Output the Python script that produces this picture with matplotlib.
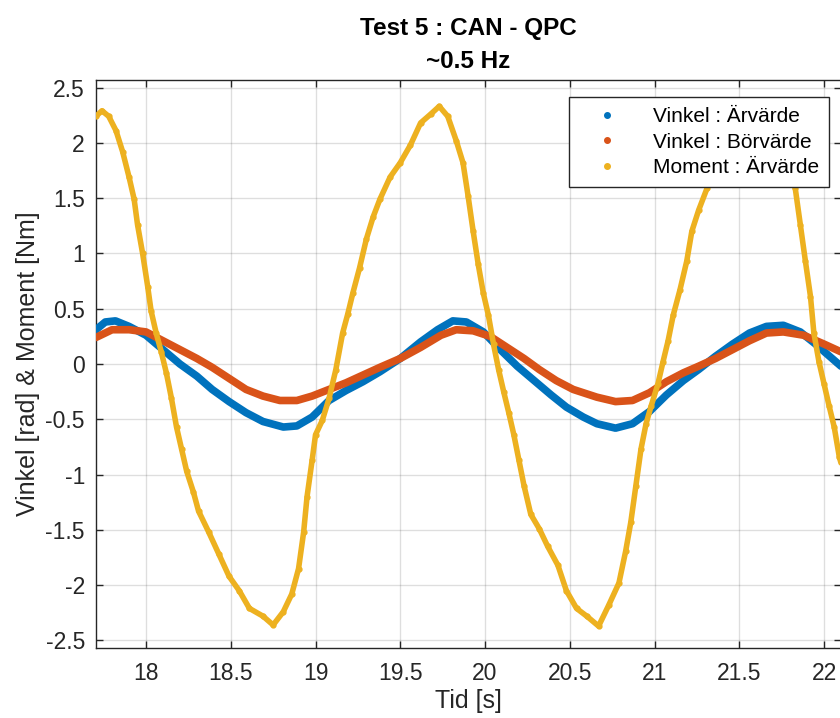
import numpy as np
import matplotlib.pyplot as plt
from matplotlib.lines import Line2D

# MATLAB-ish look
plt.rcParams['font.family'] = ['Liberation Sans', 'DejaVu Sans']

blue = '#0072BD'
red = '#D95319'
yellow = '#EDB120'

# Vinkel : Ärvärde
t_vinkel_ar = [17.705, 17.76, 17.82, 17.90, 18.00, 18.10, 18.20, 18.30, 18.39, 18.49, 18.59, 18.69,
               18.81, 18.89, 18.98, 19.08, 19.18, 19.28, 19.38, 19.50, 19.62, 19.72, 19.81, 19.89,
               19.99, 20.09, 20.19, 20.29, 20.39, 20.48, 20.58, 20.66, 20.77, 20.87, 20.97, 21.07,
               21.17, 21.26, 21.36, 21.46, 21.56, 21.66, 21.76, 21.86, 21.95, 22.07, 22.10]
vinkel_ar = [0.31, 0.38, 0.39, 0.34, 0.26, 0.13, 0.00, -0.11, -0.23, -0.34, -0.44, -0.52,
             -0.57, -0.56, -0.48, -0.33, -0.24, -0.16, -0.07, 0.05, 0.20, 0.31, 0.39, 0.38,
             0.29, 0.13, -0.02, -0.15, -0.28, -0.39, -0.48, -0.54, -0.58, -0.54, -0.43, -0.28,
             -0.15, -0.05, 0.07, 0.18, 0.28, 0.34, 0.35, 0.29, 0.18, 0.02, -0.02]

# Vinkel : Börvärde
t_vinkel_bor = [17.705, 17.80, 17.90, 18.00, 18.10, 18.20, 18.30, 18.39, 18.49, 18.59, 18.69, 18.79,
                18.89, 18.98, 19.08, 19.18, 19.28, 19.38, 19.50, 19.62, 19.74, 19.83, 19.93, 20.03,
                20.13, 20.23, 20.32, 20.42, 20.52, 20.66, 20.77, 20.87, 20.97, 21.07, 21.17, 21.26,
                21.36, 21.46, 21.56, 21.66, 21.76, 21.88, 22.00, 22.10]
vinkel_bor = [0.24, 0.31, 0.31, 0.29, 0.21, 0.13, 0.05, -0.03, -0.13, -0.23, -0.29, -0.33,
              -0.33, -0.29, -0.23, -0.17, -0.10, -0.03, 0.05, 0.15, 0.26, 0.31, 0.30, 0.25,
              0.15, 0.05, -0.05, -0.15, -0.23, -0.30, -0.34, -0.33, -0.26, -0.16, -0.08, -0.02,
              0.05, 0.13, 0.21, 0.28, 0.29, 0.26, 0.18, 0.11]

# Moment : Ärvärde
t_moment = [17.705, 17.74, 17.78, 17.823, 17.862, 17.90, 17.93, 17.95, 17.98, 18.01, 18.03, 18.06,
            18.09, 18.12, 18.15, 18.18, 18.21, 18.24, 18.28, 18.31, 18.37, 18.43, 18.49, 18.55,
            18.61, 18.69, 18.75, 18.81, 18.86, 18.90, 18.93, 18.95, 18.98, 19.00, 19.04, 19.08,
            19.12, 19.16, 19.19, 19.22, 19.26, 19.30, 19.34, 19.38, 19.44, 19.50, 19.56, 19.62,
            19.68, 19.73, 19.78, 19.83, 19.87, 19.90, 19.93, 19.96, 19.99, 20.02, 20.05, 20.08,
            20.11, 20.14, 20.17, 20.20, 20.23, 20.27, 20.32, 20.37, 20.43, 20.48, 20.54, 20.60,
            20.67, 20.73, 20.79, 20.83, 20.86, 20.89, 20.92, 20.95, 20.98, 21.02, 21.05, 21.08,
            21.11, 21.15, 21.19, 21.22, 21.26, 21.31, 21.36, 21.45, 21.55, 21.62, 21.70, 21.78,
            21.83, 21.86, 21.89, 21.92, 21.94, 21.97, 22.00, 22.03, 22.06, 22.09, 22.11]
moment = [2.24, 2.29, 2.24, 2.11, 1.92, 1.69, 1.49, 1.26, 1.00, 0.70, 0.48, 0.28,
          0.11, -0.08, -0.31, -0.57, -0.77, -0.97, -1.16, -1.33, -1.52, -1.72, -1.92, -2.05,
          -2.21, -2.28, -2.36, -2.24, -2.08, -1.85, -1.52, -1.20, -0.87, -0.64, -0.51, -0.31,
          -0.05, 0.28, 0.45, 0.64, 0.87, 1.13, 1.33, 1.49, 1.69, 1.82, 1.98, 2.18,
          2.26, 2.33, 2.24, 2.02, 1.82, 1.52, 1.20, 0.90, 0.64, 0.44, 0.18, -0.05,
          -0.25, -0.44, -0.64, -0.87, -1.10, -1.36, -1.49, -1.65, -1.82, -2.05, -2.21, -2.28,
          -2.37, -2.18, -1.98, -1.69, -1.43, -1.10, -0.77, -0.54, -0.38, -0.18, 0.02, 0.21,
          0.44, 0.67, 0.93, 1.20, 1.39, 1.59, 1.75, 2.00, 2.20, 2.30, 2.20, 1.90,
          1.59, 1.26, 0.93, 0.61, 0.28, 0.02, -0.18, -0.38, -0.57, -0.84, -0.95]

xticks = [18, 18.5, 19, 19.5, 20, 20.5, 21, 21.5, 22]
xticklabels = ['18', '18.5', '19', '19.5', '20', '20.5', '21', '21.5', '22']
yticks = [-2.5, -2, -1.5, -1, -0.5, 0, 0.5, 1, 1.5, 2, 2.5]
yticklabels = ['-2.5', '-2', '-1.5', '-1', '-0.5', '0', '0.5', '1', '1.5', '2', '2.5']

fig = plt.figure(figsize=(8.4, 7.18), dpi=100)
ax = fig.add_axes([96 / 840, 70 / 718, 745 / 840, 568 / 718])

ax.plot(t_vinkel_ar, vinkel_ar, color=blue, lw=5.5, solid_capstyle='round', zorder=3)
ax.plot(t_vinkel_bor, vinkel_bor, color=red, lw=5.5, solid_capstyle='round', zorder=3)
ax.plot(t_moment, moment, color=yellow, lw=4, marker='.', ms=7, solid_capstyle='round', zorder=4)

ax.set_xlim(17.705, 22.1)
ax.set_ylim(-2.568, 2.568)
ax.set_xticks(xticks)
ax.set_xticklabels(xticklabels)
ax.set_yticks(yticks)
ax.set_yticklabels(yticklabels)

dark = '#262626'
ax.tick_params(direction='in', length=5, width=1, colors=dark, labelsize=16.5,
               top=True, right=True)
ax.tick_params(axis='x', pad=10)
ax.tick_params(axis='y', pad=8)
for sp in ax.spines.values():
    sp.set_color(dark)
    sp.set_linewidth(1)
ax.grid(True, color='#262626', alpha=0.15, lw=1)
ax.set_axisbelow(True)

ax.set_xlabel('Tid [s]', fontsize=18, color=dark, labelpad=3)
ax.set_ylabel('Vinkel [rad] & Moment [Nm]', fontsize=18, color=dark, labelpad=4)
ax.set_title('Test 5 : CAN - QPC\n~0.5 Hz', fontsize=17.5, fontweight='bold', color='black',
             pad=9, linespacing=1.5)

handles = [Line2D([], [], ls='none', marker='.', ms=8, color=blue),
           Line2D([], [], ls='none', marker='.', ms=8, color=red),
           Line2D([], [], ls='none', marker='.', ms=8, color=yellow)]
labels = ['Vinkel : Ärvärde', 'Vinkel : Börvärde', 'Moment : Ärvärde']
leg = ax.legend(handles, labels, loc='upper right', bbox_to_anchor=(0.984, 0.970),
                fontsize=15, frameon=True, fancybox=False, framealpha=1,
                handlelength=2.6, handletextpad=0.9, borderpad=0.5, labelspacing=0.3,
                borderaxespad=0)
leg.get_frame().set_edgecolor(dark)
leg.get_frame().set_linewidth(1)
leg.set_zorder(10)

fig.savefig('out.png', dpi=100)
